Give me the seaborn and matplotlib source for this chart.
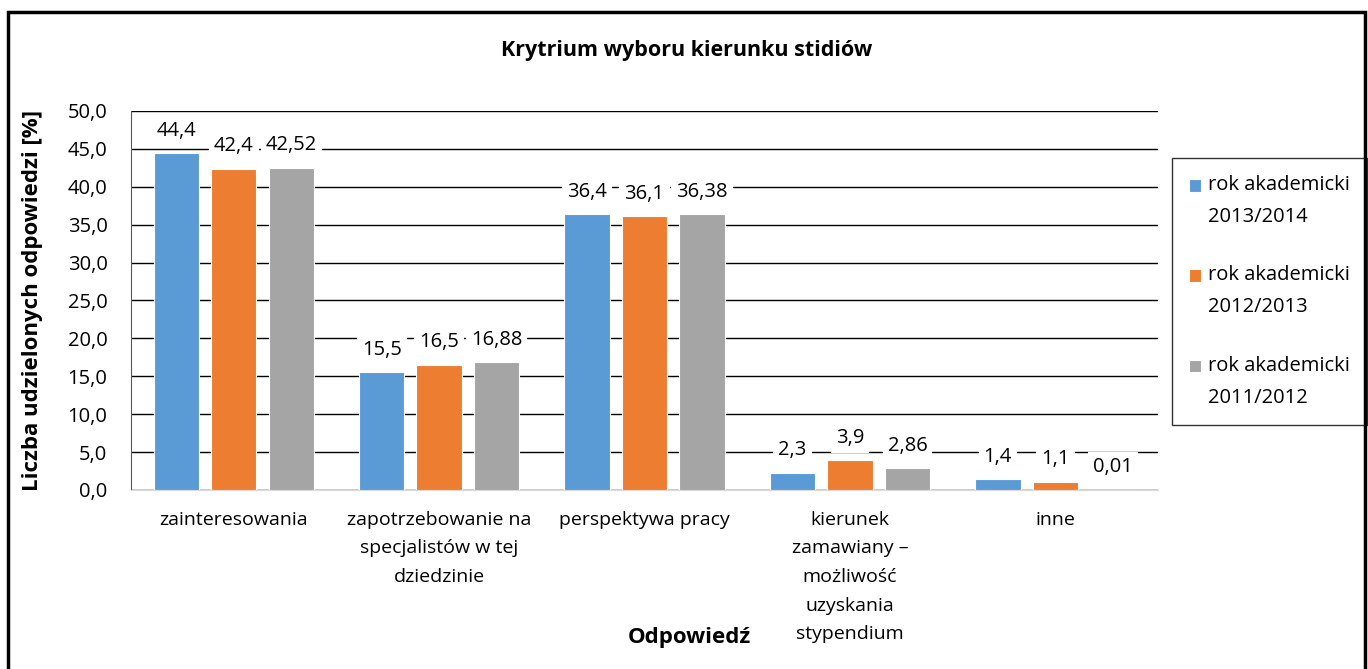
import matplotlib
matplotlib.use("Agg")
import matplotlib.pyplot as plt
import seaborn as sns
import pandas as pd
from matplotlib.patches import Rectangle
from matplotlib.legend_handler import HandlerPatch

categories = [
    "zainteresowania",
    "zapotrzebowanie na\nspecjalistów w tej\ndziedzinie",
    "perspektywa pracy",
    "kierunek\nzamawiany –\nmożliwość\nuzyskania\nstypendium",
    "inne",
]
series = ["rok akademicki\n2013/2014", "rok akademicki\n2012/2013", "rok akademicki\n2011/2012"]
values_2013_2014 = [44.4, 15.5, 36.4, 2.3, 1.4]
values_2012_2013 = [42.4, 16.5, 36.1, 3.9, 1.1]
values_2011_2012 = [42.52, 16.88, 36.38, 2.86, 0.01]
colors = ["#5B9BD5", "#ED7D31", "#A5A5A5"]
yticks = [0, 5, 10, 15, 20, 25, 30, 35, 40, 45, 50]

rows = []
for name, vals in zip(series, [values_2013_2014, values_2012_2013, values_2011_2012]):
    for cat, v in zip(categories, vals):
        rows.append({"kategoria": cat, "seria": name, "wartosc": v})
df = pd.DataFrame(rows)

sns.set_style("white")
plt.rcParams["font.family"] = ["Open Sans", "DejaVu Sans"]
plt.rcParams["text.color"] = "black"
plt.rcParams["axes.labelcolor"] = "black"
plt.rcParams["xtick.color"] = "black"
plt.rcParams["ytick.color"] = "black"

fig = plt.figure(figsize=(13.68, 6.69), dpi=100)
ax = fig.add_axes([0.0958, 0.2676, 0.7507, 0.5665])

sns.barplot(data=df, x="kategoria", y="wartosc", hue="seria", order=categories,
            hue_order=series, palette=colors, gap=0.21, width=0.84, saturation=1,
            edgecolor="white", linewidth=0.8, ax=ax, zorder=3)

ax.set_ylim(0, 50)
ax.set_yticks(yticks)
ax.set_yticklabels([f"{t:.1f}".replace(".", ",") for t in yticks], fontsize=14.5)
ax.tick_params(axis="x", labelsize=14, pad=15, length=0)
ax.tick_params(axis="y", length=0, pad=17)
for lab in ax.get_xticklabels():
    lab.set_linespacing(1.76)
ax.grid(axis="y", color="black", linewidth=1)
ax.set_axisbelow(True)
for s in ["top", "right"]:
    ax.spines[s].set_visible(False)
ax.spines["left"].set_color("#595959")
ax.spines["bottom"].set_color("#D9D9D9")

for cont in ax.containers:
    for bar in cont:
        h = bar.get_height()
        ax.annotate(str(h).replace(".", ","), (bar.get_x() + bar.get_width() / 2, h),
                    xytext=(0, 9), textcoords="offset points", ha="center", va="bottom",
                    fontsize=14.5, zorder=5,
                    bbox=dict(boxstyle="square,pad=0.25", fc="white", ec="none"))

ax.set_xlabel("Odpowiedź", fontsize=16, fontweight="bold")
ax.xaxis.set_label_coords(0.544, -0.362)
ax.set_ylabel("Liczba udzielonych odpowiedzi [%]", fontsize=16, fontweight="bold")
ax.yaxis.set_label_coords(-0.0857, 0.5)
fig.text(0.502, 0.925, "Krytrium wyboru kierunku stidiów", ha="center", va="center",
         fontsize=15.5, fontweight="bold")


# square marker next to the first line of each two-line legend label
def top_square(legend, orig_handle, xdescent, ydescent, width, height, fontsize):
    return Rectangle((-xdescent, -ydescent + 0.8 * fontsize), width, height)


handles, labels = ax.get_legend_handles_labels()
leg = ax.legend(handles, labels, loc="upper left", bbox_to_anchor=(0.8567, 0.7638),
                bbox_transform=fig.transFigure, fontsize=14.5, frameon=True, fancybox=False,
                edgecolor="black", handlelength=0.6, handleheight=0.6, handletextpad=0.35,
                labelspacing=1.9, borderpad=0.85, borderaxespad=0,
                handler_map={h: HandlerPatch(patch_func=top_square) for h in handles})
leg.get_frame().set_linewidth(1)
for t in leg.get_texts():
    t.set_linespacing(1.8)

fig.patches.append(Rectangle((0.006, -0.01), 0.992, 0.992, transform=fig.transFigure,
                             fill=False, edgecolor="black", linewidth=2.5))

fig.savefig("out.png", dpi=100)
